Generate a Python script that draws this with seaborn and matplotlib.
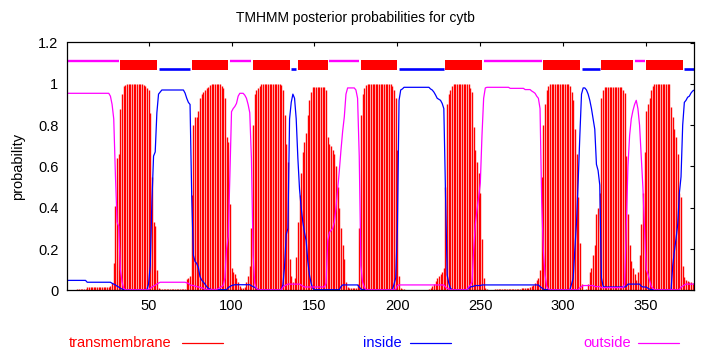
import numpy as np
import matplotlib
matplotlib.use("Agg")
import matplotlib.pyplot as plt
import seaborn as sns
from matplotlib.patches import Rectangle
from matplotlib.lines import Line2D

# ---------------- data ----------------
residues = list(range(1, 380))

transmembrane = [
    0, 0, 0, 0, 0, 0, 0.006, 0.006, 0.006, 0.006,
    0.006, 0.006, 0.016, 0.016, 0.016, 0.016, 0.016, 0.016, 0.016, 0.016,
    0.016, 0.016, 0.016, 0.016, 0.016, 0.016, 0.02, 0.034, 0.13, 0.41,
    0.64, 0.66, 0.88, 0.95, 0.99, 0.995, 1, 1, 1, 1,
    1, 1, 1, 1, 1, 1, 0.995, 0.99, 0.98, 0.97,
    0.86, 0.55, 0.33, 0.31, 0.10, 0.01, 0.005, 0.005, 0.005, 0.005,
    0.005, 0.005, 0.005, 0.005, 0.005, 0.005, 0.005, 0.005, 0.005, 0.005,
    0.005, 0.005, 0.055, 0.058, 0.07, 0.46, 0.80, 0.84, 0.84, 0.87,
    0.93, 0.95, 0.96, 0.97, 0.98, 0.986, 0.994, 1, 1, 1,
    1, 1, 1, 0.99, 0.98, 0.93, 0.74, 0.72, 0.42, 0.11,
    0.09, 0.08, 0.06, 0.04, 0.02, 0.01, 0.01, 0.015, 0.04, 0.07,
    0.12, 0.30, 0.80, 0.95, 0.97, 0.98, 0.99, 1, 1, 1,
    1, 1, 1, 1, 1, 1, 1, 1, 1, 0.995,
    0.97, 0.85, 0.71, 0.62, 0.15, 0.07, 0.04, 0.06, 0.16, 0.33,
    0.46, 0.57, 0.67, 0.72, 0.76, 0.85, 0.92, 0.96, 0.985, 0.985,
    0.985, 0.985, 0.985, 0.985, 0.985, 0.985, 0.97, 0.74, 0.71, 0.70,
    0.68, 0.66, 0.60, 0.50, 0.40, 0.30, 0.22, 0.15, 0.04, 0.015,
    0.01, 0.01, 0.01, 0.01, 0.01, 0.03, 0.30, 0.85, 0.95, 0.98,
    0.995, 1, 1, 1, 1, 1, 1, 1, 1, 1,
    1, 1, 1, 1, 1, 1, 0.99, 0.97, 0.93, 0.68,
    0.07, 0.01, 0.005, 0.005, 0, 0, 0, 0, 0, 0,
    0, 0, 0, 0, 0, 0, 0, 0, 0.005, 0.01,
    0.02, 0.03, 0.045, 0.06, 0.07, 0.08, 0.09, 0.11, 0.50, 0.90,
    0.95, 0.97, 0.99, 1, 1, 1, 1, 1, 1, 1,
    1, 1, 1, 0.98, 0.96, 0.79, 0.68, 0.62, 0.57, 0.47,
    0.25, 0.06, 0.01, 0.005, 0, 0, 0, 0, 0.005, 0.005,
    0.005, 0.005, 0.005, 0.005, 0.005, 0.005, 0.008, 0.008, 0.008, 0.008,
    0.008, 0.008, 0.008, 0.008, 0.013, 0.013, 0.013, 0.013, 0.013, 0.018,
    0.022, 0.026, 0.034, 0.05, 0.058, 0.10, 0.55, 0.80, 0.90, 0.97,
    0.99, 1, 1, 1, 1, 1, 1, 1, 1, 1,
    1, 1, 1, 0.99, 0.96, 0.92, 0.78, 0.66, 0.45, 0.23,
    0.03, 0, 0, 0.005, 0.03, 0.09, 0.11, 0.17, 0.22, 0.37,
    0.40, 0.47, 0.93, 0.97, 0.985, 0.985, 0.985, 0.985, 0.985, 0.985,
    0.985, 0.985, 0.985, 0.985, 0.985, 0.97, 0.955, 0.65, 0.37, 0.22,
    0.14, 0.11, 0.08, 0.05, 0.09, 0.17, 0.32, 0.47, 0.67, 0.87,
    0.90, 0.93, 0.97, 0.99, 1, 1, 1, 1, 1, 1,
    1, 1, 1, 1, 0.89, 0.84, 0.78, 0.74, 0.66, 0.47,
    0.45, 0.12, 0.066, 0.05, 0.045, 0.042, 0.04, 0.035, 0.03,
]

inside = [
    0.048, 0.048, 0.048, 0.048, 0.048, 0.048, 0.048, 0.048, 0.048, 0.048,
    0.048, 0.048, 0.039, 0.039, 0.039, 0.039, 0.039, 0.039, 0.039, 0.039,
    0.039, 0.039, 0.039, 0.039, 0.039, 0.039, 0.039, 0.034, 0.03, 0.026,
    0.02, 0.016, 0.01, 0.006, 0.003, 0.003, 0.003, 0.003, 0.003, 0.003,
    0.003, 0.003, 0.003, 0.003, 0.003, 0.003, 0.003, 0.003, 0.003, 0.03,
    0.12, 0.43, 0.65, 0.67, 0.86, 0.95, 0.96, 0.97, 0.97, 0.97,
    0.97, 0.97, 0.97, 0.97, 0.97, 0.97, 0.97, 0.97, 0.97, 0.97,
    0.97, 0.955, 0.93, 0.91, 0.90, 0.46, 0.17, 0.14, 0.13, 0.11,
    0.066, 0.05, 0.04, 0.03, 0.018, 0.01, 0.006, 0.003, 0.003, 0.003,
    0.003, 0.003, 0.003, 0.003, 0.003, 0.003, 0.003, 0.013, 0.018, 0.023,
    0.025, 0.027, 0.027, 0.027, 0.027, 0.027, 0.027, 0.027, 0.027, 0.027,
    0.027, 0.022, 0.018, 0.014, 0.01, 0.003, 0.003, 0.003, 0.003, 0.003,
    0.003, 0.003, 0.003, 0.003, 0.003, 0.003, 0.003, 0.003, 0.003, 0.003,
    0.026, 0.12, 0.27, 0.30, 0.83, 0.91, 0.95, 0.93, 0.83, 0.64,
    0.49, 0.40, 0.33, 0.28, 0.24, 0.14, 0.074, 0.034, 0.01, 0.003,
    0.003, 0.003, 0.003, 0.003, 0.003, 0.003, 0.003, 0.003, 0.003, 0.003,
    0.003, 0.003, 0.003, 0.003, 0.003, 0.018, 0.026, 0.026, 0.026, 0.026,
    0.026, 0.026, 0.026, 0.026, 0.026, 0.026, 0.016, 0.006, 0.003, 0.003,
    0.003, 0.003, 0.003, 0.003, 0.003, 0.003, 0.003, 0.003, 0.003, 0.003,
    0.003, 0.003, 0.003, 0.003, 0.003, 0.003, 0.003, 0.03, 0.06, 0.30,
    0.92, 0.97, 0.975, 0.983, 0.983, 0.983, 0.983, 0.983, 0.983, 0.983,
    0.983, 0.983, 0.983, 0.983, 0.983, 0.983, 0.983, 0.983, 0.983, 0.975,
    0.97, 0.96, 0.946, 0.93, 0.925, 0.92, 0.905, 0.88, 0.48, 0.074,
    0.034, 0.01, 0.003, 0.003, 0.003, 0.003, 0.003, 0.003, 0.003, 0.003,
    0.003, 0.003, 0.01, 0.016, 0.018, 0.02, 0.023, 0.023, 0.023, 0.023,
    0.026, 0.026, 0.026, 0.026, 0.026, 0.026, 0.026, 0.026, 0.026, 0.026,
    0.026, 0.026, 0.026, 0.026, 0.026, 0.026, 0.026, 0.026, 0.026, 0.026,
    0.026, 0.026, 0.026, 0.026, 0.026, 0.026, 0.026, 0.026, 0.026, 0.026,
    0.026, 0.026, 0.026, 0.026, 0.026, 0.018, 0.012, 0.006, 0.003, 0.003,
    0.003, 0.003, 0.003, 0.003, 0.003, 0.003, 0.003, 0.003, 0.003, 0.003,
    0.003, 0.003, 0.003, 0.003, 0.03, 0.06, 0.2, 0.33, 0.53, 0.75,
    0.95, 0.98, 0.98, 0.97, 0.95, 0.92, 0.88, 0.83, 0.78, 0.61,
    0.58, 0.51, 0.06, 0.02, 0.016, 0.016, 0.016, 0.016, 0.016, 0.016,
    0.016, 0.016, 0.016, 0.016, 0.016, 0.016, 0.016, 0.02, 0.03, 0.03,
    0.03, 0.03, 0.03, 0.03, 0.03, 0.03, 0.02, 0.016, 0.016, 0.016,
    0.01, 0.006, 0.003, 0.003, 0.003, 0.003, 0.003, 0.003, 0.003, 0.003,
    0.003, 0.003, 0.003, 0.003, 0.003, 0.12, 0.19, 0.25, 0.32, 0.47,
    0.55, 0.80, 0.91, 0.92, 0.935, 0.94, 0.955, 0.965, 0.97,
]

outside = [
    0.954, 0.954, 0.954, 0.954, 0.954, 0.954, 0.954, 0.954, 0.954, 0.954,
    0.954, 0.954, 0.954, 0.954, 0.954, 0.954, 0.954, 0.954, 0.954, 0.954,
    0.954, 0.954, 0.954, 0.954, 0.954, 0.954, 0.94, 0.90, 0.83, 0.56,
    0.33, 0.31, 0.10, 0.04, 0.01, 0.003, 0.003, 0.003, 0.003, 0.003,
    0.003, 0.003, 0.003, 0.003, 0.003, 0.003, 0.003, 0.003, 0.003, 0.003,
    0.01, 0.016, 0.02, 0.025, 0.03, 0.035, 0.039, 0.039, 0.039, 0.039,
    0.039, 0.039, 0.039, 0.039, 0.039, 0.039, 0.039, 0.039, 0.039, 0.039,
    0.039, 0.039, 0.036, 0.034, 0.026, 0.024, 0.023, 0.02, 0.018, 0.016,
    0.014, 0.012, 0.01, 0.004, 0.004, 0.004, 0.004, 0.004, 0.004, 0.004,
    0.004, 0.008, 0.013, 0.018, 0.023, 0.06, 0.2, 0.26, 0.55, 0.865,
    0.88, 0.89, 0.905, 0.94, 0.954, 0.954, 0.954, 0.945, 0.93, 0.90,
    0.86, 0.64, 0.17, 0.034, 0.01, 0.003, 0.003, 0.003, 0.003, 0.003,
    0.003, 0.003, 0.003, 0.003, 0.003, 0.003, 0.003, 0.003, 0.003, 0.003,
    0.016, 0.022, 0.026, 0.03, 0.03, 0.03, 0.03, 0.03, 0.03, 0.03,
    0.03, 0.025, 0.02, 0.016, 0.016, 0.016, 0.016, 0.016, 0.016, 0.016,
    0.016, 0.016, 0.016, 0.016, 0.016, 0.016, 0.034, 0.24, 0.28, 0.29,
    0.30, 0.33, 0.40, 0.49, 0.58, 0.68, 0.77, 0.84, 0.95, 0.98,
    0.98, 0.98, 0.98, 0.98, 0.97, 0.93, 0.65, 0.12, 0.04, 0.016,
    0.003, 0.003, 0.003, 0.003, 0.003, 0.003, 0.003, 0.003, 0.003, 0.003,
    0.003, 0.003, 0.003, 0.003, 0.003, 0.003, 0.003, 0.003, 0.003, 0.023,
    0.026, 0.026, 0.026, 0.026, 0.026, 0.026, 0.026, 0.026, 0.026, 0.026,
    0.026, 0.026, 0.026, 0.026, 0.026, 0.026, 0.026, 0.026, 0.026, 0.026,
    0.026, 0.026, 0.026, 0.026, 0.026, 0.026, 0.026, 0.026, 0.016, 0.01,
    0.006, 0.003, 0.003, 0.003, 0.003, 0.003, 0.003, 0.003, 0.003, 0.003,
    0.003, 0.003, 0.016, 0.025, 0.04, 0.20, 0.32, 0.39, 0.45, 0.52,
    0.75, 0.93, 0.98, 0.983, 0.983, 0.983, 0.983, 0.983, 0.983, 0.983,
    0.983, 0.983, 0.983, 0.983, 0.983, 0.983, 0.983, 0.978, 0.978, 0.978,
    0.978, 0.978, 0.978, 0.978, 0.978, 0.978, 0.972, 0.972, 0.972, 0.972,
    0.965, 0.96, 0.954, 0.94, 0.93, 0.88, 0.43, 0.19, 0.074, 0.02,
    0.006, 0.003, 0.003, 0.003, 0.003, 0.003, 0.003, 0.003, 0.003, 0.003,
    0.003, 0.003, 0.003, 0.003, 0.003, 0.003, 0.003, 0.003, 0.003, 0.013,
    0.018, 0.023, 0.023, 0.023, 0.023, 0.023, 0.023, 0.023, 0.018, 0.018,
    0.018, 0.018, 0.013, 0.013, 0.013, 0.013, 0.013, 0.013, 0.013, 0.013,
    0.013, 0.013, 0.013, 0.013, 0.013, 0.013, 0.03, 0.32, 0.60, 0.75,
    0.83, 0.87, 0.90, 0.92, 0.88, 0.80, 0.65, 0.50, 0.30, 0.10,
    0.08, 0.05, 0.02, 0.01, 0.003, 0.003, 0.003, 0.003, 0.003, 0.003,
    0.003, 0.003, 0.003, 0.003, 0.003, 0.003, 0.003, 0.003, 0.003, 0.003,
    0.016, 0.02, 0.026, 0.03, 0.03, 0.03, 0.03, 0.03, 0.03,
]

# predicted topology segments (start, end)
outside_segments = [(1, 32), (99, 112), (159, 177), (252, 287), (343, 349)]
tm_segments = [(33, 55), (76, 98), (113, 135), (140, 158), (178, 200),
               (229, 251), (288, 310), (323, 342), (350, 372)]
inside_segments = [(56, 75), (136, 139), (201, 228), (311, 322), (373, 379)]

title = "TMHMM posterior probabilities for cytb"
ylabel = "probability"
legend_labels = ["transmembrane", "inside", "outside"]
xticks = [50, 100, 150, 200, 250, 300, 350]
yticks = [0, 0.2, 0.4, 0.6, 0.8, 1.0, 1.2]
ytick_labels = ["0", "0.2", "0.4", "0.6", "0.8", "1", "1.2"]

RED, BLUE, MAGENTA = "#ff0000", "#0000ff", "#ff00ff"

# ---------------- plot ----------------
sns.set_theme(style="white")
plt.rcParams["font.family"] = ["Liberation Sans", "DejaVu Sans"]

W, H = 710, 350
fig = plt.figure(figsize=(W / 100, H / 100), dpi=100)
L, R, T, B = 67.3, 694.3, 42.5, 290.3
ax = fig.add_axes([L / W, 1 - B / H, (R - L) / W, (B - T) / H])

x = np.array(residues)
ax.vlines(x, 0, transmembrane, color=RED, lw=1.0)
sns.lineplot(x=x, y=inside, color=BLUE, lw=0.9, ax=ax)
sns.lineplot(x=x, y=outside, color=MAGENTA, lw=0.9, ax=ax)

for s, e in tm_segments:
    ax.add_patch(Rectangle((s, 1.067), e - s, 0.048, color=RED, lw=0))
for s, e in inside_segments:
    ax.plot([s, e], [1.070, 1.070], color=BLUE, lw=1.9, solid_capstyle="butt")
for s, e in outside_segments:
    ax.plot([s, e], [1.111, 1.111], color=MAGENTA, lw=1.7, solid_capstyle="butt")

ax.set_xlim(1, 379)
ax.set_ylim(0, 1.2)
ax.set_xticks(xticks)
ax.set_yticks(yticks)
ax.set_yticklabels(ytick_labels)
ax.tick_params(direction="in", top=True, right=True, length=3, width=0.8,
               labelsize=10.5, colors="black", pad=6.5)
for sp in ax.spines.values():
    sp.set_color("black")
    sp.set_linewidth(0.9)
ax.set_xlabel("")
ax.set_ylabel(ylabel, fontsize=10.5, color="black", labelpad=9)

fig.text(0.5, 1 - 18 / H, title, ha="center", va="center", fontsize=10, color="black")

legend_items = [
    (legend_labels[0], RED, 69, 182, 223),
    (legend_labels[1], BLUE, 363, 410, 451),
    (legend_labels[2], MAGENTA, 583, 638, 679),
]
ly = 1 - 343 / H
for label, col, tx, l0, l1 in legend_items:
    fig.text(tx / W, ly, label, ha="left", va="center", fontsize=10.5, color=col)
    fig.add_artist(Line2D([l0 / W, l1 / W], [ly, ly], color=col, lw=0.9,
                          transform=fig.transFigure))

fig.savefig("out.png", dpi=100, facecolor="white")
